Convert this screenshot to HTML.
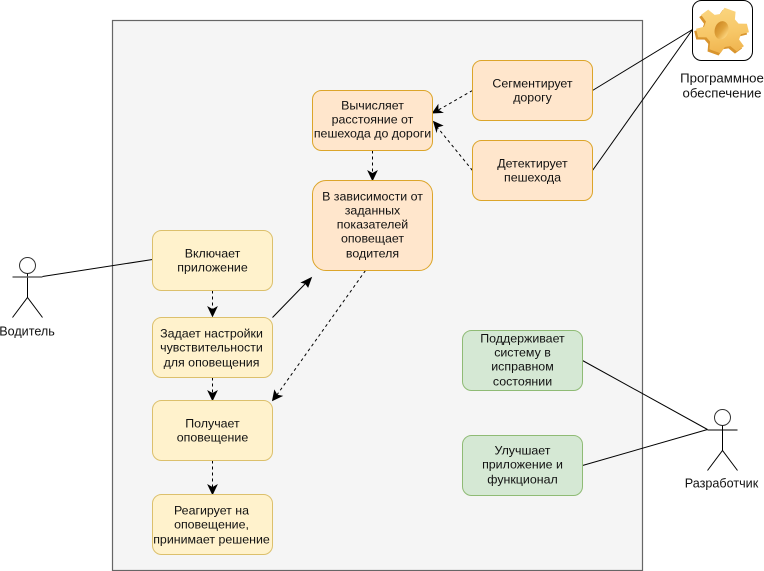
<!DOCTYPE html>
<html>
<head>
<meta charset="utf-8">
<style>
html,body{margin:0;padding:0;background:#fff;}
svg{display:block;}
text{font-family:"Liberation Sans",sans-serif;font-size:12.4px;fill:#111;text-anchor:middle;}
text.a{font-size:12.6px;}
text.s{font-size:13.2px;}
</style>
</head>
<body>
<svg width="764" height="571" viewBox="0 0 764 571" xmlns="http://www.w3.org/2000/svg">
<defs>
<linearGradient id="g" x1="0.2" y1="0" x2="0.8" y2="1">
<stop offset="0" stop-color="#fbd782"/>
<stop offset="0.55" stop-color="#f7c767"/>
<stop offset="1" stop-color="#eeb04a"/>
</linearGradient>
<linearGradient id="h" x1="0" y1="0" x2="1" y2="0.6">
<stop offset="0" stop-color="#c9821f"/>
<stop offset="0.6" stop-color="#e0a33c"/>
<stop offset="1" stop-color="#fbd27a"/>
</linearGradient>
</defs>
<g transform="translate(-0.5,-0.5)">
<rect x="113" y="21" width="530" height="550" fill="#f5f5f5" stroke="#666" stroke-width="1.2"/>

<!-- actor lines -->
<g fill="none" stroke="#000" stroke-width="1">
<path d="M43 277 L153 260"/>
<path d="M593 91 L693 30"/>
<path d="M593 171 L693 30"/>
<path d="M583 361 L708 430"/>
<path d="M583 466 L708 430"/>
<path d="M273 318 L306 284"/>
</g>
<!-- dashed -->
<g fill="none" stroke="#000" stroke-width="1" stroke-dasharray="3 3">
<path d="M213 291 L213 312"/>
<path d="M213 378 L213 395"/>
<path d="M213 461 L213 489"/>
<path d="M373 151 L373 175"/>
<path d="M473 91 L438 111"/>
<path d="M473 171 L438 128"/>
<path d="M366 271 L277 396"/>
</g>
<!-- arrowheads -->
<g fill="#000" stroke="#000" stroke-width="0.8">
<path d="M213 317 L208.500 307.500 L213 310 L217.500 307.500 Z"/>
<path d="M213 401 L208.500 391.500 L213 394 L217.500 391.500 Z"/>
<path d="M213 495 L208.500 485.500 L213 488 L217.500 485.500 Z"/>
<path d="M373 181 L368.500 171.500 L373 174 L377.500 171.500 Z"/>
<path d="M433 113.500 L438.500 105.500 L438.500 110.500 L443 113 Z"/>
<path d="M434 122 L443 126 L438 127.500 L437 132 Z"/>
<path d="M273 401 L275 391 L277.500 395.500 L282.500 396.500 Z"/>
<path d="M312 278 L308.500 287.500 L306 284 L302 283 Z"/>
</g>

<!-- yellow nodes -->
<g fill="#fff2cc" stroke="#dcc06c">
<rect x="153" y="231" width="120" height="60" rx="9"/>
<rect x="153" y="318" width="120" height="60" rx="9"/>
<rect x="153" y="401" width="120" height="60" rx="9"/>
<rect x="153" y="495" width="120" height="60" rx="9"/>
</g>
<!-- orange nodes -->
<g fill="#ffe6cc" stroke="#dca52a">
<rect x="313" y="91" width="120" height="60" rx="9"/>
<rect x="313" y="181" width="120" height="90" rx="13.5"/>
<rect x="473" y="61" width="120" height="60" rx="9"/>
<rect x="473" y="141" width="120" height="60" rx="9"/>
</g>
<!-- green nodes -->
<g fill="#d5e8d4" stroke="#8fbb75">
<rect x="463" y="331" width="120" height="60" rx="9"/>
<rect x="463" y="436" width="120" height="60" rx="9"/>
</g>

<!-- labels -->
<text x="213" y="258">Включает</text>
<text x="213" y="272">приложение</text>
<text x="212" y="338">Задает настройки</text>
<text x="212" y="352">чувствительности</text>
<text x="212" y="367">для оповещения</text>
<text x="213" y="428">Получает</text>
<text x="213" y="442">оповещение</text>
<text x="212" y="515">Реагирует на</text>
<text x="212" y="529">оповещение,</text>
<text x="212" y="544">принимает решение</text>
<text x="373" y="110">Вычисляет</text>
<text x="373" y="124">расстояние от</text>
<text x="373" y="138">пешехода до дороги</text>
<text x="373" y="201">В зависимости от</text>
<text x="373" y="215">заданных</text>
<text x="373" y="229">показателей</text>
<text x="373" y="243">оповещает</text>
<text x="373" y="258">водителя</text>
<text x="533" y="88">Сегментирует</text>
<text x="533" y="102">дорогу</text>
<text x="533" y="168">Детектирует</text>
<text x="533" y="182">пешехода</text>
<text x="523" y="343">Поддерживает</text>
<text x="523" y="357">систему в</text>
<text x="523" y="371">исправном</text>
<text x="523" y="386">состоянии</text>
<text x="523" y="455">Улучшает</text>
<text x="523" y="469">приложение и</text>
<text x="523" y="484">функционал</text>

<!-- driver actor -->
<g fill="none" stroke="#000">
<circle cx="28" cy="266" r="8" stroke="#333"/>
<path d="M28 274 L28 298"/>
<path d="M13 277.500 L43 277.500" stroke="#666" stroke-width="1.500"/>
<path d="M13 318 L28 298 L43 318"/>
</g>
<text class="a" x="27.500" y="336">Водитель</text>

<!-- developer actor -->
<g fill="none" stroke="#000">
<circle cx="723" cy="418" r="8" stroke="#333"/>
<path d="M723 426 L723 451"/>
<path d="M708 430.500 L738 430.500"/>
<path d="M708 471 L723 451 L738 471"/>
</g>
<text class="a" x="722" y="488">Разработчик</text>

<!-- software -->
<rect x="693" y="1" width="60" height="60" rx="9" fill="#fff" stroke="#000"/>
<g transform="translate(723,31) rotate(20) scale(0.98,0.92)">
<path transform="translate(-1,3)" fill="#d9952e" d="M-6 -24 L6 -24 L8 -16 L13 -13 L21 -16 L26 -8 L19 -3 L19 3 L26 8 L21 16 L13 13 L8 16 L6 24 L-6 24 L-8 16 L-13 13 L-21 16 L-26 8 L-19 3 L-19 -3 L-26 -8 L-21 -16 L-13 -13 L-8 -16 Z"/>
<path fill="url(#g)" d="M-6 -24 L6 -24 L8 -16 L13 -13 L21 -16 L26 -8 L19 -3 L19 3 L26 8 L21 16 L13 13 L8 16 L6 24 L-6 24 L-8 16 L-13 13 L-21 16 L-26 8 L-19 3 L-19 -3 L-26 -8 L-21 -16 L-13 -13 L-8 -16 Z"/>
<ellipse cx="-1" cy="0" rx="7" ry="10" fill="url(#h)" transform="rotate(-5)"/>
</g>
<text class="s" x="722.500" y="83">Программное</text>
<text class="s" x="722.500" y="98">обеспечение</text>
</g>
</svg>
</body>
</html>
